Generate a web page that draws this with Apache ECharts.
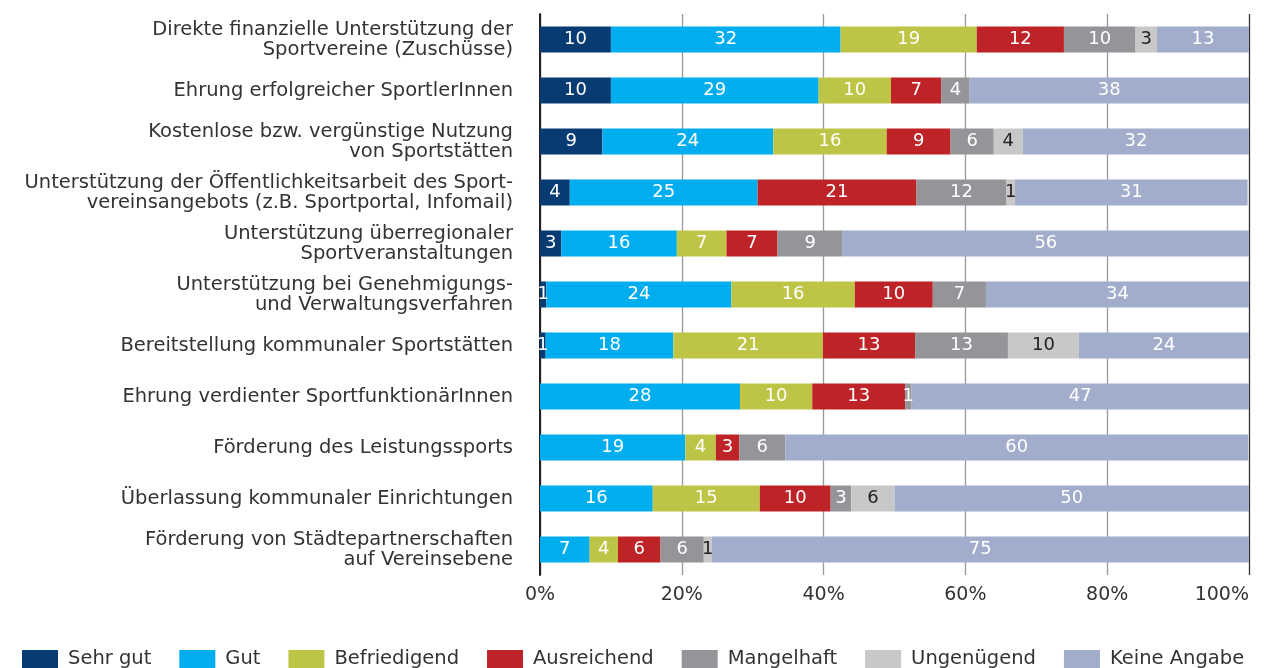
<!DOCTYPE html>
<html>
<head>
<meta charset="utf-8">
<script src="https://cdn.jsdelivr.net/npm/echarts@6/dist/echarts.min.js"></script>
<style>
  html, body { margin: 0; padding: 0; background: #fff; }
  #box { width: 1277px; height: 668px; }
</style>
</head>
<body>
<div id="box"></div>
<script>
const categories = [
  'Direkte finanzielle Unterstützung der\nSportvereine (Zuschüsse)',
  'Ehrung erfolgreicher SportlerInnen',
  'Kostenlose bzw. vergünstige Nutzung\nvon Sportstätten',
  'Unterstützung der Öffentlichkeitsarbeit des Sport-\nvereinsangebots (z.B. Sportportal, Infomail)',
  'Unterstützung überregionaler\nSportveranstaltungen',
  'Unterstützung bei Genehmigungs-\nund Verwaltungsverfahren',
  'Bereitstellung kommunaler Sportstätten',
  'Ehrung verdienter SportfunktionärInnen',
  'Förderung des Leistungssports',
  'Überlassung kommunaler Einrichtungen',
  'Förderung von Städtepartnerschaften\nauf Vereinsebene'
]

// bar lengths (share of 100%)
const sehrGut = [10.0, 10.0, 8.8, 4.2, 3.0, 0.9, 0.8, null, null, null, null]
const gut = [32.4, 29.3, 24.1, 26.5, 16.3, 26.1, 18.0, 28.2, 20.5, 15.9, 7.0]
const befriedigend = [19.2, 10.2, 16.0, null, 7.0, 17.4, 21.1, 10.2, 4.3, 15.1, 4.0]
const ausreichend = [12.3, 7.1, 9.0, 22.4, 7.2, 11.0, 13.0, 13.1, 3.3, 10.0, 6.0]
const mangelhaft = [10.1, 4.0, 6.1, 12.7, 9.2, 7.5, 13.1, 0.9, 6.5, 2.9, 6.1]
const ungenuegend = [3.0, null, 4.1, 1.2, null, null, 10.0, null, null, 6.1, 1.1]
const keineAngabe = [13.0, 39.4, 31.9, 32.8, 57.3, 37.1, 24.0, 47.6, 65.3, 50.0, 75.8]

// printed numbers inside the bars
const sehrGutLbl = [10, 10, 9, 4, 3, 1, 1, null, null, null, null]
const gutLbl = [32, 29, 24, 25, 16, 24, 18, 28, 19, 16, 7]
const befriedigendLbl = [19, 10, 16, null, 7, 16, 21, 10, 4, 15, 4]
const ausreichendLbl = [12, 7, 9, 21, 7, 10, 13, 13, 3, 10, 6]
const mangelhaftLbl = [10, 4, 6, 12, 9, 7, 13, 1, 6, 3, 6]
const ungenuegendLbl = [3, null, 4, 1, null, null, 10, null, null, 6, 1]
const keineAngabeLbl = [13, 38, 32, 31, 56, 34, 24, 47, 60, 50, 75]

const xTicks = [0, 20, 40, 60, 80, 100]

const FONT = 'DejaVu Sans'
const FS = 19.5

function makeSeries(name, data, labels, color, textColor) {
  return {
    name: name,
    type: 'bar',
    stack: 'total',
    barWidth: 26,
    data: data,
    itemStyle: { color: color },
    label: {
      show: true,
      position: 'inside',
      color: textColor,
      fontFamily: FONT,
      fontSize: 18,
      formatter: p => (labels[p.dataIndex] == null ? '' : String(labels[p.dataIndex]))
    }
  }
}

const myChart = echarts.init(document.getElementById('box'))
myChart.setOption({
  animation: false,
  textStyle: { fontFamily: FONT },
  grid: { left: 540, right: 28, top: 14, bottom: 93, containLabel: false },
  legend: {
    left: 17,
    top: 644,
    icon: 'rect',
    itemWidth: 36,
    itemHeight: 18,
    itemGap: 28,
    textStyle: { fontFamily: FONT, fontSize: FS, color: '#333', padding: [0, 0, 0, 5] }
  },
  xAxis: {
    type: 'value',
    min: xTicks[0],
    max: xTicks[xTicks.length - 1],
    interval: 20,
    axisLine: { show: false },
    axisTick: { show: false },
    axisLabel: {
      formatter: '{value}%',
      color: '#333',
      fontFamily: FONT,
      fontSize: 19,
      margin: 11,
      alignMaxLabel: 'right'
    },
    splitLine: {
      show: true,
      lineStyle: { color: ['#222', '#999', '#999', '#999', '#999', '#333'], width: 1.3 }
    }
  },
  yAxis: {
    type: 'category',
    inverse: true,
    data: categories,
    axisLine: { show: true, lineStyle: { color: '#222', width: 2 } },
    axisTick: { show: false },
    axisLabel: {
      color: '#333',
      fontFamily: FONT,
      fontSize: FS,
      lineHeight: 20,
      margin: 27,
      align: 'right'
    }
  },
  series: [
    makeSeries('Sehr gut', sehrGut, sehrGutLbl, '#083b72', '#fff'),
    makeSeries('Gut', gut, gutLbl, '#00aeef', '#fff'),
    makeSeries('Befriedigend', befriedigend, befriedigendLbl, '#bec546', '#fff'),
    makeSeries('Ausreichend', ausreichend, ausreichendLbl, '#bd2327', '#fff'),
    makeSeries('Mangelhaft', mangelhaft, mangelhaftLbl, '#939598', '#fff'),
    makeSeries('Ungenügend', ungenuegend, ungenuegendLbl, '#c8c8c9', '#222'),
    makeSeries('Keine Angabe', keineAngabe, keineAngabeLbl, '#a2adcb', '#fff')
  ]
})
</script>
</body>
</html>
